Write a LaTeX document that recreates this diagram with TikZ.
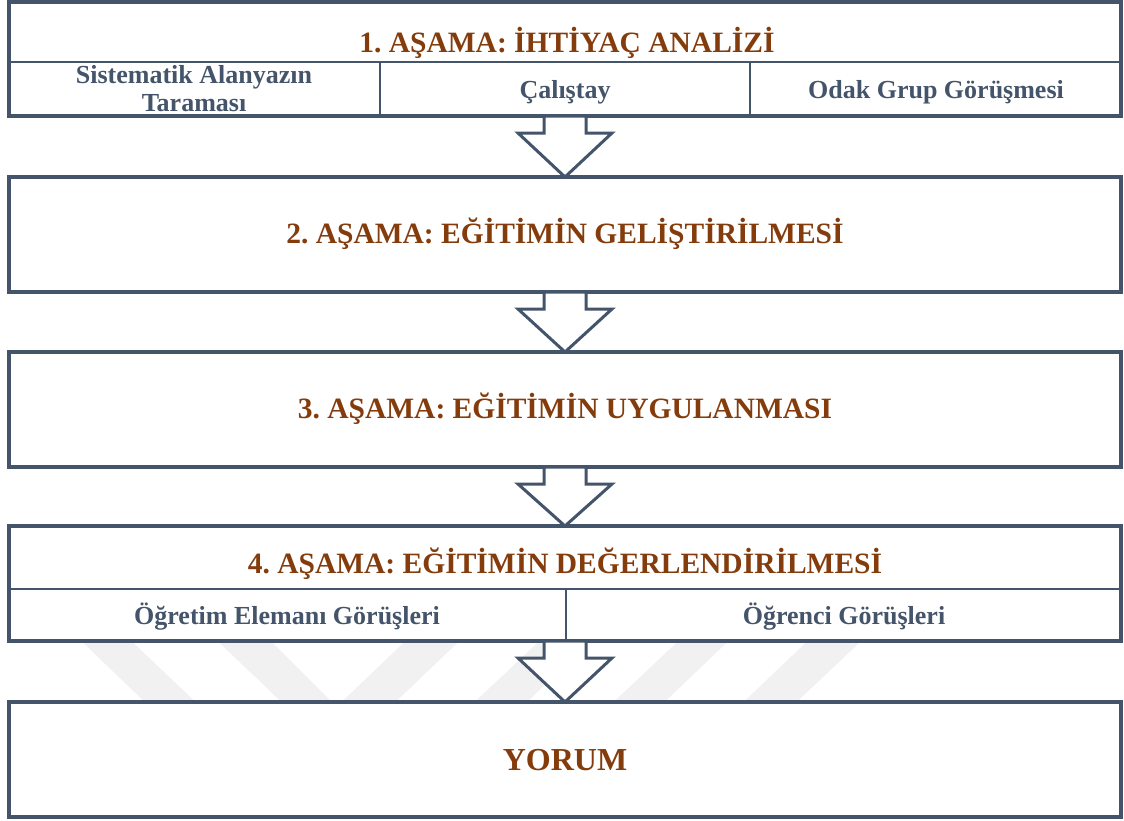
\documentclass[tikz,border=0pt]{standalone}
\usepackage{fontspec}
\setmainfont{Liberation Serif}
\usetikzlibrary{calc}
\definecolor{frame}{HTML}{44546A}
\definecolor{titlec}{HTML}{843C0C}
\definecolor{wm}{HTML}{F1F1F1}
\tikzset{
 outerbox/.style={draw=frame, line width=3.3pt, fill=white, minimum width=1112pt, inner sep=0pt, outer sep=0pt},
 cellbox/.style={draw=frame, line width=1.8pt, inner sep=0pt, outer sep=0pt},
 ttl/.style={text=titlec, font=\frenchspacing\bfseries\fontsize{29.5}{32}\selectfont, anchor=base, inner sep=0pt},
 bigttl/.style={text=titlec, font=\bfseries\fontsize{32}{34}\selectfont, anchor=base, inner sep=0pt},
 subtxt/.style={text=frame, font=\bfseries\fontsize{26}{28}\selectfont, anchor=base, inner sep=0pt},
 downarrow/.style={draw=frame, fill=white, line width=3pt, line join=miter},
 wmstripe/.style={fill=wm, draw=none}
}
\begin{document}
\begin{tikzpicture}[x=1pt,y=-1pt]
\useasboundingbox (0,0) rectangle (1124,820);
% watermark stripes
\fill[wmstripe] (70,630) -- (120,630) -- (206,712) -- (155,712) -- cycle;
\fill[wmstripe] (206,630) -- (260,630) -- (342,712) -- (292,712) -- cycle;
\fill[wmstripe] (417,630) -- (471,630) -- (385,712) -- (331,712) -- cycle;
\fill[wmstripe] (551,630) -- (601,630) -- (517,712) -- (464,712) -- cycle;
\fill[wmstripe] (690,630) -- (740,630) -- (654,712) -- (603,712) -- cycle;
\fill[wmstripe] (819,630) -- (873,630) -- (786,712) -- (733,712) -- cycle;
% boxes
\node[outerbox, minimum height=114pt] (b1) at (565,59) {};
\node[outerbox, minimum height=115pt] (b2) at (565,234.5) {};
\node[outerbox, minimum height=115pt] (b3) at (565,409.5) {};
\node[outerbox, minimum height=115pt] (b4) at (565,583.5) {};
\node[outerbox, minimum height=115pt] (b5) at (565,759.5) {};
% cells of box 1
\node[cellbox, minimum width=1112pt, minimum height=60pt] (b1t) at (565,32) {};
\node[cellbox, minimum width=371pt, minimum height=54pt] (b1a) at (194.5,89) {};
\node[cellbox, minimum width=370pt, minimum height=54pt] (b1b) at (565,89) {};
\node[cellbox, minimum width=371pt, minimum height=54pt] (b1c) at (935.5,89) {};
% cells of box 4
\node[cellbox, minimum width=1112pt, minimum height=63pt] (b4t) at (565,557.5) {};
\node[cellbox, minimum width=557pt, minimum height=52pt] (b4a) at (287.5,615) {};
\node[cellbox, minimum width=555pt, minimum height=52pt] (b4b) at (843.5,615) {};
% outer borders again on top
\foreach \b in {b1,b4} {
  \draw[draw=frame, line width=3.3pt] (\b.north west) rectangle (\b.south east);
}
% texts
\node[ttl] (t1) at (567,52.3) {1. AŞAMA: İHTİYAÇ ANALİZİ};
\node[subtxt] (s1a) at (194,83.3) {Sistematik Alanyazın};
\node[subtxt] (s1a2) at (194,111.7) {Taraması};
\node[subtxt] (s1b) at (565,98.3) {Çalıştay};
\node[subtxt] (s1c) at (936,98.3) {Odak Grup Görüşmesi};
\node[ttl] (t2) at (565,243.5) {2. AŞAMA: EĞİTİMİN GELİŞTİRİLMESİ};
\node[ttl] (t3) at (565,418.5) {3. AŞAMA: EĞİTİMİN UYGULANMASI};
\node[ttl] (t4) at (565,573) {4. AŞAMA: EĞİTİMİN DEĞERLENDİRİLMESİ};
\node[subtxt] (s4a) at (287,624) {Öğretim Elemanı Görüşleri};
\node[subtxt] (s4b) at (844,624) {Öğrenci Görüşleri};
\node[bigttl] (t5) at (565,770) {YORUM};
% arrows
\foreach \a/\b in {b1/b2,b2/b3,b3/b4,b4/b5} {
  \draw[downarrow] ($(\a.south)+(-21,0)$) -- ++(0,17) -- ++(-26,0) -- (\b.north)
     -- ($(\a.south)+(47,17)$) -- ++(-26,0) -- ++(0,-17) -- cycle;
}
\end{tikzpicture}
\end{document}
